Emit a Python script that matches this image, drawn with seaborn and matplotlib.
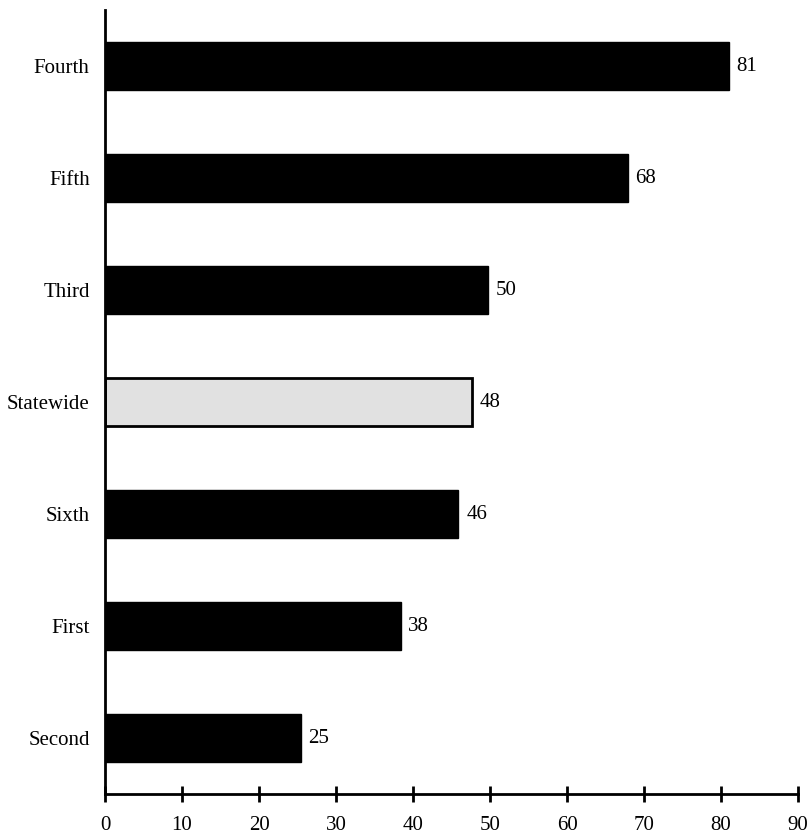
import matplotlib
matplotlib.use("Agg")
import pandas as pd
import matplotlib.pyplot as plt
import seaborn as sns

# Data
regions = ["Fourth", "Fifth", "Third", "Statewide", "Sixth", "First", "Second"]
values = [81.0, 67.9, 49.7, 47.6, 45.9, 38.4, 25.4]
labels = ["81", "68", "50", "48", "46", "38", "25"]

df = pd.DataFrame({"region": regions, "value": values})
colors = {r: ("#e1e1e1" if r == "Statewide" else "black") for r in regions}

sns.set_style("white")
plt.rcParams["font.family"] = ["Liberation Serif", "DejaVu Serif"]
plt.rcParams["text.color"] = "black"
plt.rcParams["xtick.color"] = "black"
plt.rcParams["ytick.color"] = "black"

fig = plt.figure(figsize=(8.1, 8.36), dpi=100)
ax = fig.add_axes([105 / 810, 42 / 836, 693 / 810, 784 / 836])

sns.barplot(data=df, x="value", y="region", hue="region", palette=colors,
            order=regions, width=0.43, legend=False, ax=ax,
            edgecolor="black", linewidth=1)

for p in ax.patches:
    if p.get_facecolor()[0] > 0.5:
        p.set_linewidth(2)

for i, (v, t) in enumerate(zip(values, labels)):
    ax.text(v + 1.0, i, t, va="center", ha="left", fontsize=15, color="black")

ax.set_xlim(0, 90)
ax.set_ylim(6.5, -0.5)
ax.set_xticks(range(0, 91, 10))
ax.set_xlabel("")
ax.set_ylabel("")
ax.tick_params(axis="x", bottom=True, direction="inout", length=12, width=2,
               labelsize=15, pad=10, colors="black")
ax.tick_params(axis="y", left=False, length=0, labelsize=15, pad=11, colors="black")
for s in ["top", "right"]:
    ax.spines[s].set_visible(False)
for s in ["left", "bottom"]:
    ax.spines[s].set_linewidth(2)
    ax.spines[s].set_color("black")

fig.savefig("out.png", dpi=100)
